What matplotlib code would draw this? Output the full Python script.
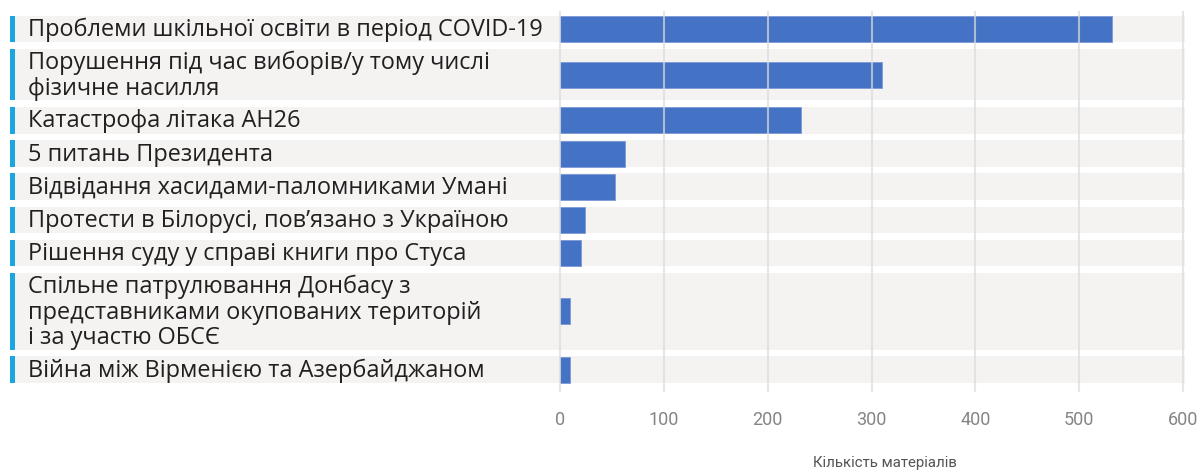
import matplotlib.pyplot as plt
from matplotlib.patches import Rectangle
from matplotlib.transforms import blended_transform_factory

# Topics and number of materials per topic
topics = [
    "Проблеми шкільної освіти в період COVID-19",
    "Порушення під час виборів/у тому числі\nфізичне насилля",
    "Катастрофа літака АН26",
    "5 питань Президента",
    "Відвідання хасидами-паломниками Умані",
    "Протести в Білорусі, пов’язано з Україною",
    "Рішення суду у справі книги про Стуса",
    "Спільне патрулювання Донбасу з\nпредставниками окупованих територій\nі за участю ОБСЄ",
    "Війна між Вірменією та Азербайджаном",
]
counts = [532, 310, 232, 63, 53, 24, 20, 10, 10]
xticks = [0, 100, 200, 300, 400, 500, 600]
xlabel = "Кількість матеріалів"

W, H = 1198, 471
fig = plt.figure(figsize=(W / 100, H / 100), dpi=100)

# plot area in pixels: x from 560 to 1183, y from 11 to 392 (top-down)
x0, x1, y_top, y_bot = 560, 1183, 11, 392
ax = fig.add_axes([x0 / W, 1 - y_bot / H, (x1 - x0) / W, (y_bot - y_top) / H])
ax.set_xlim(0, 600)
ax.set_ylim(y_bot, y_top)
trans = blended_transform_factory(ax.transAxes, ax.transData)


def fx(px):
    return (px - x0) / (x1 - x0)


line_h = 25
gap = 6.6
y = 15.7
for topic, n in zip(topics, counts):
    lines = topic.count("\n") + 1
    h = 1.6 + line_h * lines
    mid = y + h / 2
    # grey row band and light-blue marker on the left
    ax.add_patch(Rectangle((fx(15), y), fx(1185) - fx(15), h, transform=trans,
                           facecolor="#f4f3f2", edgecolor="none", zorder=0, clip_on=False))
    ax.add_patch(Rectangle((fx(10), y), fx(15) - fx(10), h, transform=trans,
                           facecolor="#1ca6df", edgecolor="none", zorder=1, clip_on=False))
    ax.barh(mid, n, height=26, color="#4472c4", edgecolor="#7c9ad6", linewidth=0.6, zorder=2)
    ax.text(fx(28), mid + 1, topic, transform=trans, va="center", ha="left",
            fontsize=16.9, family="Open Sans", color="#231f20", linespacing=1.07)
    y += h + gap

ax.vlines(xticks, y_top, y_bot, colors="#dcdcdc", linewidth=1.5, alpha=0.7, zorder=3, clip_on=False)

ax.set_xticks(xticks)
ax.set_xticklabels([str(t) for t in xticks], family="Roboto",
                   fontsize=13, color="#858585")
ax.tick_params(axis="x", length=0, pad=14)
ax.set_yticks([])
for s in ax.spines.values():
    s.set_visible(False)
ax.patch.set_visible(False)

fig.text(885 / W, 1 - 463 / H, xlabel, ha="center", va="center",
         family="Roboto", fontsize=10.8, color="#555555")

fig.savefig("out.png", dpi=100)
